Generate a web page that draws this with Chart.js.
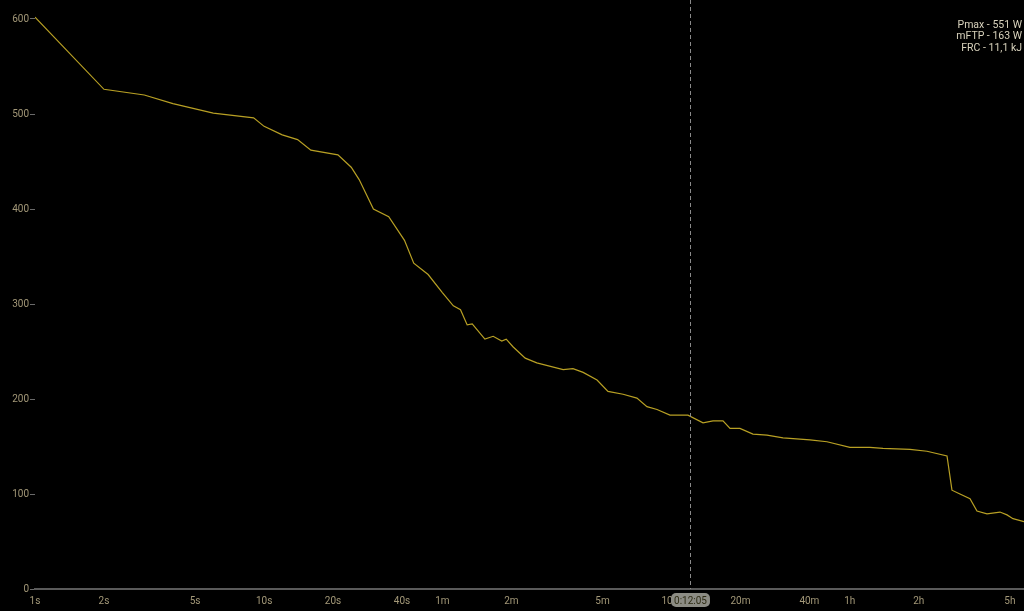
<!DOCTYPE html>
<html>
<head>
<meta charset="utf-8">
<script src="https://cdn.jsdelivr.net/npm/chart.js@4/dist/chart.umd.min.js"></script>
<style>
  html, body { margin: 0; padding: 0; background: #000; }
  #wrap { width: 1024px; height: 611px; }
</style>
</head>
<body>
<div id="wrap"><canvas id="curve" width="1024" height="611"></canvas></div>
<script>
// duration in seconds, best power in watts
const durations = [1, 2, 3, 4, 6, 9, 10, 12, 14, 16, 21, 24, 26, 30, 35, 41, 45, 52, 60, 67,
  72, 77, 81, 92, 100, 109, 114, 122, 138, 155, 202, 223, 247, 284, 317, 369, 424, 469, 519, 591,
  708, 824, 911, 1007, 1081, 1194, 1361, 1567, 1841, 2414, 2864, 3608, 4413, 5026, 6594, 7826, 9570, 10060, 10900, 12060,
  12935, 14300, 16300, 17490, 18580, 20750];
const watts = [602, 526, 520, 511, 501, 496, 487, 478, 473, 462, 457, 444, 431, 400, 392, 367, 343, 331, 312, 298,
  294, 278, 279, 263, 266, 261, 263, 255, 243, 238, 231, 232, 228, 220, 208, 205, 201, 192, 189, 183,
  183, 175, 177, 177, 169, 169, 163, 162, 159, 157, 155, 149, 149, 148, 147, 145, 140, 104, 100, 95,
  82, 79, 81, 78, 74, 71];

const xTickValues = [1, 2, 5, 10, 20, 40, 60, 120, 300, 600, 1200, 2400, 3600, 7200, 18000];
const xTickLabels = ["1s", "2s", "5s", "10s", "20s", "40s", "1m", "2m", "5m", "10m", "20m", "40m", "1h", "2h", "5h"];
const yTickValues = [0, 100, 200, 300, 400, 500, 600];

const cursorAt = 725;
const cursorLabel = "0:12:05";
const summary = ["Pmax - 551 W", "mFTP - 163 W", "FRC - 11,1 kJ"];

const tickColor = "#a39878";
const font = { family: "Roboto, 'Liberation Sans', sans-serif", size: 10 };

const overlay = {
  id: "overlay",
  afterDatasetsDraw(chart) {
    const ctx = chart.ctx;
    const area = chart.chartArea;
    const x = Math.round(chart.scales.x.getPixelForValue(cursorAt)) + 0.5;
    ctx.save();
    ctx.strokeStyle = "#8a8a8a";
    ctx.lineWidth = 1;
    ctx.setLineDash([4, 3]);
    ctx.beginPath();
    ctx.moveTo(x, area.top);
    ctx.lineTo(x, area.bottom);
    ctx.stroke();
    ctx.setLineDash([]);

    // cursor time box
    ctx.font = "10px " + font.family;
    const w = ctx.measureText(cursorLabel).width + 6;
    const bx = x - w / 2, by = area.bottom + 4, bh = 14;
    ctx.fillStyle = "#8c8c84";
    ctx.beginPath();
    ctx.roundRect(bx, by, w, bh, 5);
    ctx.fill();
    ctx.fillStyle = "#2e2c14";
    ctx.textAlign = "center";
    ctx.textBaseline = "middle";
    ctx.fillText(cursorLabel, x, by + bh / 2 + 1);

    // summary text top right
    ctx.font = "10.5px " + font.family;
    ctx.fillStyle = "#d8d2bc";
    ctx.textAlign = "right";
    summary.forEach((s, i) => ctx.fillText(s, area.right - 2, 25 + i * 11.5));
    ctx.restore();
  }
};

new Chart(document.getElementById("curve"), {
  type: "line",
  data: {
    datasets: [{
      data: durations.map((d, i) => ({ x: d, y: watts[i] })),
      borderColor: "#b8a024",
      borderWidth: 1.2,
      pointRadius: 0,
      tension: 0,
      fill: false
    }]
  },
  options: {
    responsive: false,
    animation: false,
    events: [],
    layout: { padding: 0 },
    plugins: { legend: { display: false }, tooltip: { enabled: false } },
    scales: {
      x: {
        type: "logarithmic",
        min: 1,
        max: 20750,
        afterBuildTicks: s => { s.ticks = xTickValues.map(v => ({ value: v })); },
        afterFit: s => { s.height = 22; s.paddingLeft = 0; s.paddingRight = 0; },
        grid: { display: false, drawOnChartArea: false, drawTicks: true, tickLength: 5, color: "#6a6a6a" },
        border: { display: true, color: "#5a5a5a", width: 2 },
        ticks: {
          color: tickColor, font: font, padding: 1, maxRotation: 0, autoSkip: false,
          callback: (v) => xTickLabels[xTickValues.indexOf(v)]
        }
      },
      y: {
        min: 0,
        max: 620,
        afterBuildTicks: s => { s.ticks = yTickValues.map(v => ({ value: v })); },
        afterFit: s => { s.width = 35; s.paddingTop = 0; s.paddingBottom = 0; },
        grid: { display: true, drawOnChartArea: false, drawTicks: true, tickLength: 5, color: "#6a6a6a" },
        border: { display: false },
        ticks: { color: tickColor, font: font, padding: 1 }
      }
    }
  },
  plugins: [overlay]
});
</script>
</body>
</html>
